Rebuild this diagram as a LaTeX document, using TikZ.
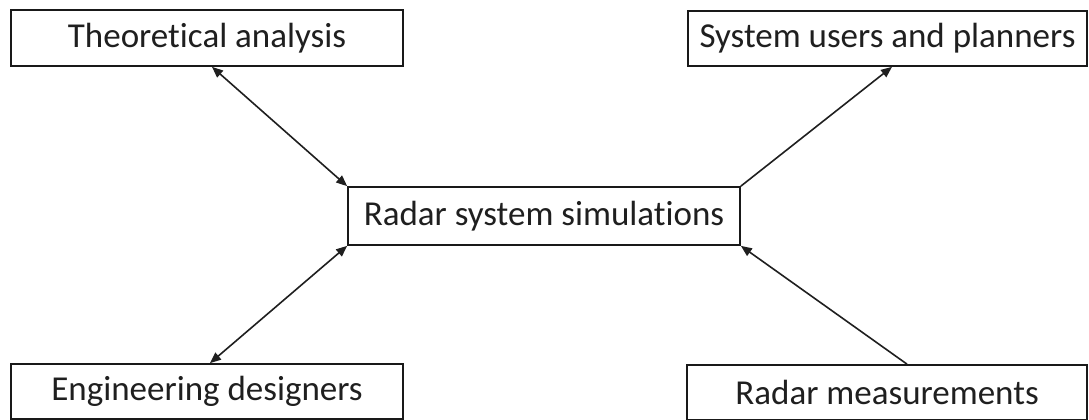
\documentclass[tikz,border=0pt]{standalone}
\usepackage{fontspec}
\setmainfont{Carlito}[Ligatures={NoCommon}]
\usetikzlibrary{arrows.meta}
\begin{document}
\begin{tikzpicture}[x=1pt,y=-1pt,
  box/.style={draw=black!90, line width=1.7pt, fill=white, inner sep=0pt,
    font=\fontsize{35}{40}\selectfont, text=black!88},
  link/.style={line width=1.6pt, draw=black!88},
  tip/.style={-{Triangle[length=11pt,width=9pt]}},
  tips/.style={{Triangle[length=11pt,width=9pt]}-{Triangle[length=11pt,width=9pt]}}]
  \useasboundingbox (0,0) rectangle (1089,420);
  \fill[white] (0,0) rectangle (1089,420);

  \node[box, minimum width=392pt, minimum height=56pt] (theory) at (207,38) {Theoretical analysis};
  \node[box, minimum width=399pt, minimum height=55pt] (users) at (887.5,38.5) {System users and planners};
  \node[box, minimum width=392pt, minimum height=58pt] (sim) at (544,216) {Radar system simulations};
  \node[box, minimum width=392pt, minimum height=55pt] (eng) at (207,391.5) {Engineering designers};
  \node[box, minimum width=400pt, minimum height=55pt] (meas) at (887,392.5) {Radar measurements};

  \draw[link, tips] ([xshift=5pt]theory.south) -- (sim.north west);
  \draw[link, tip] (sim.north east) -- ([xshift=4.5pt]users.south);
  \draw[link, tips] (sim.south west) -- ([xshift=3pt]eng.north);
  \draw[link, tip] ([xshift=20pt]meas.north) -- (sim.south east);
\end{tikzpicture}
\end{document}
